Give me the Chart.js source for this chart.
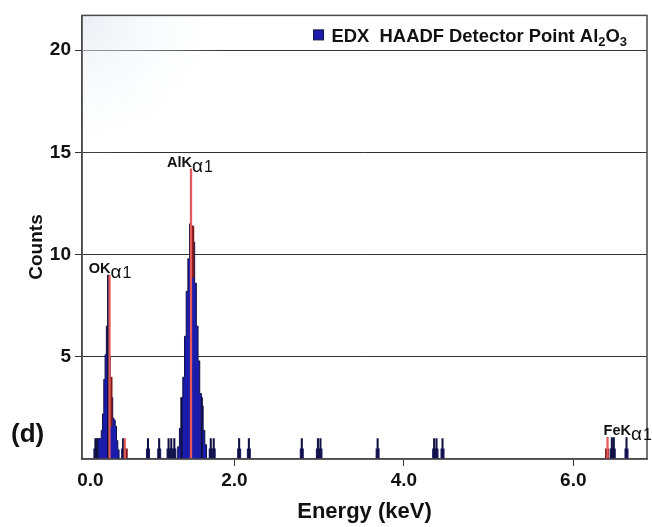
<!DOCTYPE html>
<html>
<head>
<meta charset="utf-8">
<script src="https://cdn.jsdelivr.net/npm/chart.js@4.4.1/dist/chart.umd.min.js"></script>
<style>
  html, body { margin: 0; padding: 0; background: #fff; }
  #wrap { width: 652px; height: 527px; }
</style>
</head>
<body>
<div id="wrap"><canvas id="edxChart" width="652" height="527"></canvas></div>
<script>
// O and Al peaks, channel energy (keV) and counts
const peakEnergies = [0.38, 0.39, 0.405, 0.42, 0.435, 0.45, 0.465, 0.48, 0.495, 0.51, 0.525, 0.54, 0.555, 0.57, 0.585, 0.60, 0.615, 0.63, 0.645,
                      1.32, 1.34, 1.36, 1.38, 1.40, 1.42, 1.44, 1.46, 1.48, 1.50, 1.52, 1.54, 1.56, 1.58, 1.60, 1.62, 1.64, 1.66, 1.68];
const peakCounts = [0, 1.0, 1.0, 1.0, 1.4, 2.2, 3.9, 5.1, 6.5, 6.5, 5.0, 4.0, 3.0, 2.0, 1.9, 1.6, 0.9, 0.45, 0,
                    0, 0.6, 1.5, 3.0, 4.0, 6.0, 8.2, 9.8, 11.5, 11.4, 10.6, 8.6, 6.5, 4.8, 3.2, 2.6, 1.4, 0.7, 0];

// single counts scattered along the spectrum
const eventEnergies = [0.358, 0.378, 0.685, 0.979, 1.111, 1.222, 1.254, 1.290, 1.72, 1.755, 2.055, 2.17,
                       2.795, 2.985, 3.015, 3.69, 4.357, 4.385, 4.456, 6.455, 6.478, 6.628];
const eventCounts = [1, 1, 1, 1, 1, 1, 1, 1, 1, 1, 1, 1, 1, 1, 1, 1, 1, 1, 1, 1.05, 1.05, 1.05];
const eventBlock = [0.5, 0.5, 0.5, 0.5, 0.5, 0.5, 0.5, 0.5, 0.5, 0.5, 0.5, 0.5, 0.5, 0.5, 0.5, 0.5, 0.5, 0.5, 0.5, 0.5, 0.5, 0.5];

// thin tall channels inside the peaks
const spikeEnergies = [0.508, 1.375, 1.615];
const spikeCounts = [9.0, 3.0, 3.0];

// channels shown in dark red (ROI)
const roiEnergies = [0.535, 0.715, 1.50, 6.40];
const roiRanges = [[1.6, 4.0], [0, 0.5], [8.9, 11.4], [0, 0.5]];

// line markers
const markerEnergies = [0.525, 0.705, 1.487, 6.404];
const markerHeights = [9.0, 1.0, 14.2, 1.06];
const peakLabels = ['OKα1', '', 'AlKα1', 'FeKα1'];

const xTickValues = [0.3, 2, 4, 6];
const xTickLabels = ['0.0', '2.0', '4.0', '6.0'];
const yTickValues = [5, 10, 15, 20];

const FONT = '"Liberation Sans", Arial, Helvetica, sans-serif';
const BLUE = 'rgb(28,28,172)';
const NAVY = 'rgb(16,16,66)';
const DARKRED = 'rgb(128,24,24)';
const RED = 'rgb(226,90,90)';
const AXIS = '#4a4a4a';

Chart.defaults.font.family = FONT;

const toXY = (xs, ys) => xs.map((x, i) => ({ x: x, y: ys[i] }));

// faint shading in the upper left of the plot
const shading = {
    id: 'shading',
    beforeDatasetsDraw(chart) {
        const { ctx, chartArea } = chart;
        const g = ctx.createRadialGradient(chartArea.left, chartArea.top, 0, chartArea.left, chartArea.top, 150);
        g.addColorStop(0, 'rgba(226,231,238,0.7)');
        g.addColorStop(1, 'rgba(255,255,255,0)');
        ctx.save();
        ctx.fillStyle = g;
        ctx.fillRect(chartArea.left, chartArea.top, 150, 150);
        ctx.restore();
    }
};

// plot frame, legend, peak labels, y title and panel letter
const decorations = {
    id: 'decorations',
    afterDraw(chart) {
        const { ctx, chartArea } = chart;
        const xs = chart.scales.x;
        const ys = chart.scales.y;
        ctx.save();

        // frame
        ctx.strokeStyle = AXIS;
        ctx.lineWidth = 1.5;
        ctx.strokeRect(chartArea.left, chartArea.top, chartArea.right - chartArea.left, chartArea.bottom - chartArea.top);

        // legend (digits are subscripts)
        const label = chart.data.datasets[0].label;
        const parts = label.split(/(\d)/);
        const bigFont = 'bold 18.4px ' + FONT;
        const subFont = 'bold 13px ' + FONT;
        let w = 0;
        parts.forEach((p, i) => {
            ctx.font = i % 2 ? subFont : bigFont;
            w += ctx.measureText(p).width;
        });
        const baseY = chartArea.top + 26.5;
        let x = chartArea.right - 20 - w;
        ctx.fillStyle = BLUE;
        ctx.strokeStyle = NAVY;
        ctx.lineWidth = 1;
        ctx.fillRect(x - 18, baseY - 12, 10, 10);
        ctx.strokeRect(x - 18, baseY - 12, 10, 10);
        ctx.fillStyle = '#111';
        ctx.textBaseline = 'alphabetic';
        ctx.textAlign = 'left';
        parts.forEach((p, i) => {
            ctx.font = i % 2 ? subFont : bigFont;
            ctx.fillText(p, x, i % 2 ? baseY + 4 : baseY);
            x += ctx.measureText(p).width;
        });

        // peak labels
        const anchors = ['end', 'end', 'end', 'start'];
        peakLabels.forEach((text, i) => {
            if (!text) return;
            const [base, sub] = text.split('α');
            const px = xs.getPixelForValue(markerEnergies[i]);
            const py = ys.getPixelForValue(markerHeights[i]) - 2;
            ctx.font = 'bold 14.5px ' + FONT;
            const bw = ctx.measureText(base).width;
            let lx = anchors[i] === 'end' ? px - bw + 1 : px - 4;
            ctx.fillStyle = '#111';
            ctx.fillText(base, lx, py);
            lx += bw;
            ctx.font = '19px ' + FONT;
            ctx.fillText('α', lx, py + 5);
            lx += ctx.measureText('α').width + 1;
            ctx.font = '16px ' + FONT;
            ctx.fillText(sub, lx, py + 5);
        });

        // y title
        ctx.save();
        ctx.translate(42, 247);
        ctx.rotate(-Math.PI / 2);
        ctx.font = 'bold 19px ' + FONT;
        ctx.textAlign = 'center';
        ctx.fillText('Counts', 0, 0);
        ctx.restore();

        // panel letter
        ctx.font = 'bold 26px ' + FONT;
        ctx.fillStyle = '#111';
        ctx.fillText('(d)', 11, 442);
        ctx.restore();
    }
};

const ctx = document.getElementById('edxChart').getContext('2d');
new Chart(ctx, {
    type: 'bar',
    data: {
        datasets: [
            {
                type: 'line',
                label: 'EDX  HAADF Detector Point Al2O3',
                data: toXY(peakEnergies, peakCounts),
                stepped: 'middle',
                fill: 'origin',
                backgroundColor: BLUE,
                borderColor: NAVY,
                borderWidth: 1,
                pointRadius: 0,
                order: 5
            },
            {
                label: 'roi',
                data: toXY(roiEnergies, roiRanges),
                backgroundColor: DARKRED,
                barThickness: 3.6,
                grouped: false,
                order: 4
            },
            {
                label: 'events',
                data: toXY(eventEnergies, eventBlock),
                backgroundColor: 'rgb(30,30,110)',
                barThickness: 3.4,
                grouped: false,
                order: 3
            },
            {
                label: 'event lines',
                data: toXY(eventEnergies.concat(spikeEnergies), eventCounts.concat(spikeCounts)),
                backgroundColor: NAVY,
                barThickness: 1.4,
                grouped: false,
                order: 2
            },
            {
                label: 'markers',
                data: toXY(markerEnergies, markerHeights),
                backgroundColor: RED,
                barThickness: 1.6,
                grouped: false,
                order: 1
            }
        ]
    },
    options: {
        responsive: false,
        animation: false,
        devicePixelRatio: 1,
        layout: { padding: { top: 11, right: 5, left: 0, bottom: 0 } },
        plugins: {
            legend: { display: false },
            tooltip: { enabled: false }
        },
        scales: {
            x: {
                type: 'linear',
                min: 0.2,
                max: 6.87,
                offset: false,
                afterBuildTicks: s => { s.ticks = xTickValues.map(v => ({ value: v })); },
                afterFit: s => { s.height = 68; },
                ticks: {
                    callback: v => xTickLabels[xTickValues.indexOf(v)],
                    font: { size: 19, weight: 'bold' },
                    color: '#111',
                    padding: 3,
                    maxRotation: 0,
                    autoSkip: false
                },
                grid: {
                    drawOnChartArea: false,
                    offset: false,
                    tickLength: 7,
                    tickColor: c => c.index === 0 ? 'rgba(0,0,0,0)' : '#333'
                },
                border: { color: AXIS, width: 1.5 },
                title: {
                    display: true,
                    text: 'Energy (keV)',
                    font: { size: 22, weight: 'bold' },
                    color: '#111',
                    padding: { top: 0, bottom: 2 }
                }
            },
            y: {
                min: 0,
                max: 21.7,
                afterBuildTicks: s => { s.ticks = yTickValues.map(v => ({ value: v })); },
                afterFit: s => { s.width = 82; },
                ticks: {
                    font: { size: 19, weight: 'bold' },
                    color: '#111',
                    padding: 4
                },
                grid: { color: '#333', lineWidth: 1, tickLength: 7 },
                border: { color: AXIS, width: 1.5 },
                title: { display: false }
            }
        }
    },
    plugins: [shading, decorations]
});
</script>
</body>
</html>
